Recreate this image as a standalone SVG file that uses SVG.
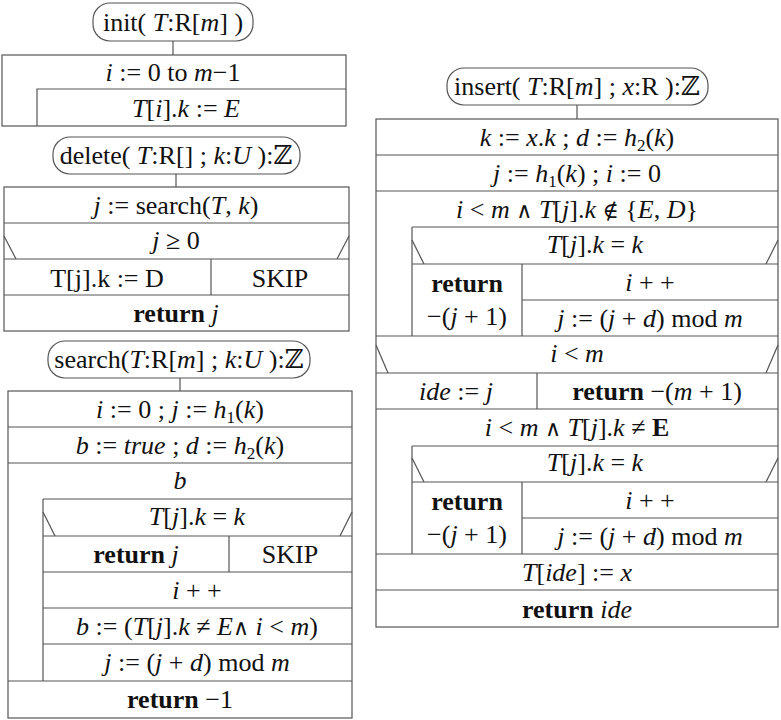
<svg xmlns="http://www.w3.org/2000/svg" width="781" height="720" viewBox="0 0 781 720">
<style>
.ln{fill:none;stroke:#555;stroke-width:1.2}
.t{font-family:"Liberation Serif","DejaVu Serif",serif;font-size:26px;text-anchor:middle;fill:#111}
.i{font-style:italic}
.b{font-weight:bold}
.s{font-size:17px}
.m{font-family:"DejaVu Serif",serif;font-weight:normal;font-size:22px}
</style>
<rect width="781" height="720" fill="#fff"/>

<g id="connectors">
<line class="ln" x1="173" y1="41" x2="173" y2="55"/>
<line class="ln" x1="176" y1="174" x2="176" y2="187"/>
<line class="ln" x1="180" y1="378" x2="180" y2="391"/>
<line class="ln" x1="577" y1="105" x2="577" y2="119"/>
</g>

<!-- init -->
<g id="init-head">
<rect class="ln" x="93" y="3" width="160" height="38" rx="17"/>
<text class="t" x="173" y="31">init( <tspan class="i">T</tspan>:R[<tspan class="i">m</tspan>] )</text>
</g>
<g id="init-body">
<rect class="ln" x="2" y="55" width="344" height="71"/>
<polyline class="ln" points="346,89 37,89 37,126"/>
<text class="t" x="173" y="81"><tspan class="i">i</tspan> := 0 to <tspan class="i">m</tspan>−1</text>
<text class="t" x="186" y="117"><tspan class="i">T</tspan>[<tspan class="i">i</tspan>].<tspan class="i">k</tspan> := <tspan class="i">E</tspan></text>
</g>

<!-- delete -->
<g id="delete-head">
<rect class="ln" x="53" y="137" width="247" height="37" rx="17"/>
<text class="t" x="176" y="164">delete( <tspan class="i">T</tspan>:R[] ; <tspan class="i">k</tspan>:<tspan class="i">U</tspan> ):ℤ</text>
</g>
<g id="delete-body">
<rect class="ln" x="4" y="187" width="345" height="144"/>
<line class="ln" x1="4" y1="223" x2="349" y2="223"/>
<line class="ln" x1="4" y1="259" x2="349" y2="259"/>
<line class="ln" x1="4" y1="295" x2="349" y2="295"/>
<line class="ln" x1="4" y1="236" x2="16" y2="259"/>
<line class="ln" x1="337" y1="259" x2="349" y2="236"/>
<line class="ln" x1="211" y1="259" x2="211" y2="295"/>
<text class="t" x="176" y="214"><tspan class="i">j</tspan> := search(<tspan class="i">T</tspan>, <tspan class="i">k</tspan>)</text>
<text class="t" x="176" y="249"><tspan class="i">j</tspan> ≥ 0</text>
<text class="t" x="107" y="287">T[j].k := D</text>
<text class="t" x="280" y="287">SKIP</text>
<text class="t" x="176" y="322"><tspan class="b">return</tspan> <tspan class="i">j</tspan></text>
</g>

<!-- search -->
<g id="search-head">
<rect class="ln" x="48" y="341" width="262" height="37" rx="17"/>
<text class="t" x="179" y="368">search(<tspan class="i">T</tspan>:R[<tspan class="i">m</tspan>] ; <tspan class="i">k</tspan>:<tspan class="i">U</tspan> ):ℤ</text>
</g>
<g id="search-body">
<rect class="ln" x="8" y="391" width="344" height="327"/>
<line class="ln" x1="8" y1="427" x2="352" y2="427"/>
<line class="ln" x1="8" y1="463" x2="352" y2="463"/>
<line class="ln" x1="8" y1="681" x2="352" y2="681"/>
<line class="ln" x1="43" y1="499" x2="352" y2="499"/>
<line class="ln" x1="43" y1="536" x2="352" y2="536"/>
<line class="ln" x1="43" y1="572" x2="352" y2="572"/>
<line class="ln" x1="43" y1="608" x2="352" y2="608"/>
<line class="ln" x1="43" y1="644" x2="352" y2="644"/>
<line class="ln" x1="43" y1="499" x2="43" y2="681"/>
<line class="ln" x1="229" y1="536" x2="229" y2="572"/>
<line class="ln" x1="43" y1="512" x2="55" y2="536"/>
<line class="ln" x1="340" y1="536" x2="352" y2="512"/>
<text class="t" x="180" y="418"><tspan class="i">i</tspan> := 0 ; <tspan class="i">j</tspan> := <tspan class="i">h</tspan><tspan class="s" dy="5">1</tspan><tspan dy="-5">(</tspan><tspan class="i">k</tspan>)</text>
<text class="t" x="180" y="454"><tspan class="i">b</tspan> := <tspan class="i">true</tspan> ; <tspan class="i">d</tspan> := <tspan class="i">h</tspan><tspan class="s" dy="5">2</tspan><tspan dy="-5">(</tspan><tspan class="i">k</tspan>)</text>
<text class="t i" x="180" y="489">b</text>
<text class="t" x="197" y="525"><tspan class="i">T</tspan>[<tspan class="i">j</tspan>].<tspan class="i">k</tspan> = <tspan class="i">k</tspan></text>
<text class="t" x="136" y="563"><tspan class="b">return</tspan> <tspan class="i">j</tspan></text>
<text class="t" x="290" y="563">SKIP</text>
<text class="t" x="197" y="599"><tspan class="i">i</tspan> + +</text>
<text class="t" x="197" y="635"><tspan class="i">b</tspan> := (<tspan class="i">T</tspan>[<tspan class="i">j</tspan>].<tspan class="i">k</tspan> ≠ <tspan class="i">E</tspan><tspan class="m">∧</tspan> <tspan class="i">i</tspan> &lt; <tspan class="i">m</tspan>)</text>
<text class="t" x="197" y="671"><tspan class="i">j</tspan> := (<tspan class="i">j</tspan> + <tspan class="i">d</tspan>) mod <tspan class="i">m</tspan></text>
<text class="t" x="180" y="708"><tspan class="b">return</tspan> −1</text>
</g>

<!-- insert -->
<g id="insert-head">
<rect class="ln" x="447" y="68" width="261" height="37" rx="17"/>
<text class="t" x="577" y="95">insert( <tspan class="i">T</tspan>:R[<tspan class="i">m</tspan>] ; <tspan class="i">x</tspan>:R ):ℤ</text>
</g>
<g id="insert-body">
<rect class="ln" x="376" y="119" width="402" height="508"/>
<line class="ln" x1="376" y1="155" x2="778" y2="155"/>
<line class="ln" x1="376" y1="191" x2="778" y2="191"/>
<line class="ln" x1="412" y1="227" x2="778" y2="227"/>
<line class="ln" x1="412" y1="264" x2="778" y2="264"/>
<line class="ln" x1="522" y1="300" x2="778" y2="300"/>
<line class="ln" x1="376" y1="336" x2="778" y2="336"/>
<line class="ln" x1="376" y1="373" x2="778" y2="373"/>
<line class="ln" x1="376" y1="409" x2="778" y2="409"/>
<line class="ln" x1="412" y1="446" x2="778" y2="446"/>
<line class="ln" x1="412" y1="482" x2="778" y2="482"/>
<line class="ln" x1="522" y1="518" x2="778" y2="518"/>
<line class="ln" x1="376" y1="554" x2="778" y2="554"/>
<line class="ln" x1="376" y1="590" x2="778" y2="590"/>
<line class="ln" x1="412" y1="227" x2="412" y2="336"/>
<line class="ln" x1="412" y1="446" x2="412" y2="554"/>
<line class="ln" x1="522" y1="264" x2="522" y2="336"/>
<line class="ln" x1="522" y1="482" x2="522" y2="554"/>
<line class="ln" x1="537" y1="373" x2="537" y2="409"/>
<line class="ln" x1="412" y1="240" x2="424" y2="264"/>
<line class="ln" x1="766" y1="264" x2="778" y2="240"/>
<line class="ln" x1="376" y1="345" x2="388" y2="373"/>
<line class="ln" x1="766" y1="373" x2="778" y2="345"/>
<line class="ln" x1="412" y1="458" x2="424" y2="482"/>
<line class="ln" x1="766" y1="482" x2="778" y2="458"/>
<text class="t" x="577" y="146"><tspan class="i">k</tspan> := <tspan class="i">x</tspan>.<tspan class="i">k</tspan> ; <tspan class="i">d</tspan> := <tspan class="i">h</tspan><tspan class="s" dy="5">2</tspan><tspan dy="-5">(</tspan><tspan class="i">k</tspan>)</text>
<text class="t" x="577" y="182"><tspan class="i">j</tspan> := <tspan class="i">h</tspan><tspan class="s" dy="5">1</tspan><tspan dy="-5">(</tspan><tspan class="i">k</tspan>) ; <tspan class="i">i</tspan> := 0</text>
<text class="t" x="577" y="218"><tspan class="i">i</tspan> &lt; <tspan class="i">m</tspan> <tspan class="m">∧</tspan> <tspan class="i">T</tspan>[<tspan class="i">j</tspan>].<tspan class="i">k</tspan> <tspan class="m">∉</tspan> {<tspan class="i">E</tspan>, <tspan class="i">D</tspan>}</text>
<text class="t" x="595" y="253"><tspan class="i">T</tspan>[<tspan class="i">j</tspan>].<tspan class="i">k</tspan> = <tspan class="i">k</tspan></text>
<text class="t b" x="467" y="292">return</text>
<text class="t" x="467" y="325">−(<tspan class="i">j</tspan> + 1)</text>
<text class="t" x="650" y="291"><tspan class="i">i</tspan> + +</text>
<text class="t" x="650" y="327"><tspan class="i">j</tspan> := (<tspan class="i">j</tspan> + <tspan class="i">d</tspan>) mod <tspan class="i">m</tspan></text>
<text class="t" x="577" y="362"><tspan class="i">i</tspan> &lt; <tspan class="i">m</tspan></text>
<text class="t" x="456" y="400"><tspan class="i">ide</tspan> := <tspan class="i">j</tspan></text>
<text class="t" x="657" y="400"><tspan class="b">return</tspan> −(<tspan class="i">m</tspan> + 1)</text>
<text class="t" x="577" y="436"><tspan class="i">i</tspan> &lt; <tspan class="i">m</tspan> <tspan class="m">∧</tspan> <tspan class="i">T</tspan>[<tspan class="i">j</tspan>].<tspan class="i">k</tspan> ≠ <tspan class="b">E</tspan></text>
<text class="t" x="595" y="471"><tspan class="i">T</tspan>[<tspan class="i">j</tspan>].<tspan class="i">k</tspan> = <tspan class="i">k</tspan></text>
<text class="t b" x="467" y="510">return</text>
<text class="t" x="467" y="543">−(<tspan class="i">j</tspan> + 1)</text>
<text class="t" x="650" y="509"><tspan class="i">i</tspan> + +</text>
<text class="t" x="650" y="545"><tspan class="i">j</tspan> := (<tspan class="i">j</tspan> + <tspan class="i">d</tspan>) mod <tspan class="i">m</tspan></text>
<text class="t" x="577" y="581"><tspan class="i">T</tspan>[<tspan class="i">ide</tspan>] := <tspan class="i">x</tspan></text>
<text class="t" x="577" y="618"><tspan class="b">return</tspan> <tspan class="i">ide</tspan></text>
</g>
</svg>
